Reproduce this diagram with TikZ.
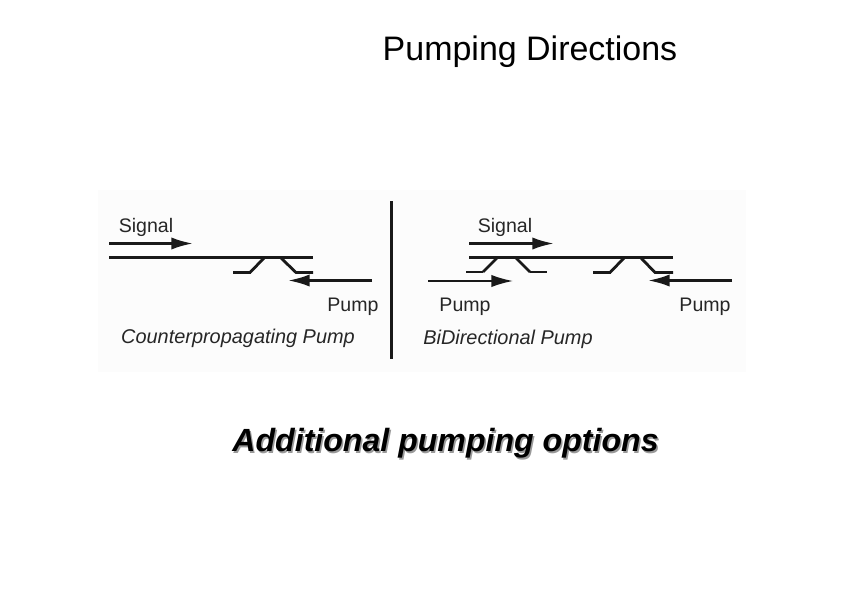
\documentclass[tikz,border=0pt]{standalone}
\usepackage{fontspec}
\setmainfont{Liberation Sans}
\usetikzlibrary{arrows.meta, positioning}

\begin{document}
\begin{tikzpicture}[
    x=0.03cm,
    y=-0.03cm,
    fiber/.style={line width=2.3pt,black!90},
    branch/.style={line width=2.4pt,black!90},
    thin branch/.style={line width=1.3pt,black!90},
    arrow/.style={-{Latex[length=18.5pt,width=10.5pt]},line width=2.3pt,black!90},
    thin arrow/.style={-{Latex[length=18.5pt,width=10.5pt]},line width=1.5pt,black!90},
    label node/.style={font=\fontsize{16.7}{19}\selectfont,text=black!85,inner sep=0pt},
    name node/.style={font=\fontsize{17}{20}\selectfont\itshape,text=black!85,inner sep=0pt}
]

\useasboundingbox (0,0) rectangle (842,592);
\fill[white] (0,0) rectangle (842,592);
\fill[black!1] (98,190) rectangle (746,372);

\node[inner sep=0pt,font=\fontsize{29}{33}\selectfont] (title) at (530,52) {Pumping Directions};
\node[inner sep=0pt,font=\fontsize{27.4}{32}\selectfont\bfseries\itshape,text=black!40] (captionshade) at (447,445) {Additional pumping options};
\node[inner sep=0pt,font=\fontsize{27.4}{32}\selectfont\bfseries\itshape] (caption) at (445.5,443.5) {Additional pumping options};

% left panel
\coordinate (sigL1) at (109,243.5);
\coordinate (sigL2) at (193,243.5);
\coordinate (fibL1) at (109,257.5);
\coordinate (fibL2) at (313,257.5);
\coordinate (pumpL1) at (372,280.5);
\coordinate (pumpL2) at (288,280.5);
\coordinate (divT) at (391.5,201);
\coordinate (divB) at (391.5,359);

\node[label node] (signalL) at (146,227) {Signal};
\node[label node] (pumpL) at (353,307) {Pump};
\node[name node] (nameL) at (238,338) {Counterpropagating Pump};

\draw[arrow] (sigL1) -- (sigL2);
\draw[fiber] (fibL1) -- (fibL2);
\draw[branch] (233,272.5) -- (250,272.5) -- (264,258);
\draw[branch] (281,258) -- (296,272.5) -- (313,272.5);
\draw[arrow] (pumpL1) -- (pumpL2);
\draw[line width=2.3pt,black!90] (divT) -- (divB);

% right panel
\coordinate (sigR1) at (469,243.5);
\coordinate (sigR2) at (554,243.5);
\coordinate (fibR1) at (469,257.5);
\coordinate (fibR2) at (673,257.5);
\coordinate (pumpA1) at (428,281);
\coordinate (pumpA2) at (513,281);
\coordinate (pumpB1) at (732,280.5);
\coordinate (pumpB2) at (648,280.5);

\node[label node] (signalR) at (505,227) {Signal};
\node[label node] (pumpRa) at (465,307) {Pump};
\node[label node] (pumpRb) at (705,307) {Pump};
\node[name node] (nameR) at (508,339) {BiDirectional Pump};

\draw[arrow] (sigR1) -- (sigR2);
\draw[fiber] (fibR1) -- (fibR2);
\draw[thin branch] (466,272) -- (483,272);
\draw[branch] (483,272) -- (497,258);
\draw[branch] (516,258) -- (530,272);
\draw[thin branch] (530,272) -- (547,272);
\draw[branch] (593,272.5) -- (610,272.5) -- (624,258);
\draw[branch] (641,258) -- (655,272.5) -- (673,272.5);
\draw[thin arrow] (pumpA1) -- (pumpA2);
\draw[arrow] (pumpB1) -- (pumpB2);

\end{tikzpicture}
\end{document}
